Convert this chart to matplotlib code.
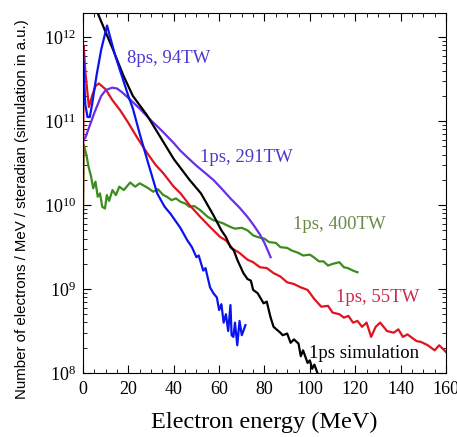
import numpy as np
import matplotlib.pyplot as plt
from matplotlib.ticker import MultipleLocator, LogLocator, NullFormatter

plt.rcParams['font.family'] = 'Liberation Serif'
plt.rcParams['mathtext.fontset'] = 'stix'

# energies (MeV) and log10 of counts
e_blue = [0, 0.5, 1, 2, 3, 4, 6, 8, 10.6, 12, 14, 17, 20, 22, 25, 28.3, 32.7, 36, 38.5,
          42.9, 46, 48, 50, 51, 53, 54, 56, 57.5, 59, 60, 61, 62, 63, 64, 65, 65.5,
          66.3, 67, 68, 69, 70, 71.6]
l_blue = [11.88, 11.5, 11.2, 11.05, 11.05, 11.2, 11.55, 11.85, 12.14, 12.0, 11.8, 11.55,
          11.3, 11.15, 10.85, 10.54, 10.14, 9.98, 9.9, 9.73, 9.58, 9.5, 9.38, 9.4,
          9.22, 9.25, 9.02, 8.95, 8.9, 8.75, 8.82, 8.6, 8.7, 8.5, 8.81, 8.45, 8.43,
          8.6, 8.33, 8.62, 8.45, 8.57]

e_purple = [0, 1, 3, 5, 8, 10, 12.8, 15, 17, 19.5, 25, 30, 35, 40, 42.9, 46, 50, 54,
            57.5, 61, 65, 69, 72.5, 75, 78, 80, 82.7]
l_purple = [10.77, 10.8, 10.95, 11.1, 11.3, 11.37, 11.4, 11.39, 11.35, 11.29, 11.15,
            11.01, 10.88, 10.74, 10.65, 10.57, 10.47, 10.38, 10.3, 10.2, 10.08, 9.97,
            9.86, 9.77, 9.65, 9.55, 9.38]

e_red = [0, 0.3, 1, 2.6, 4, 5.5, 7, 10, 13, 16.4, 20, 24, 28.3, 32, 35.4, 40, 43, 47,
         51.7, 56, 60.5, 63, 66, 69, 72.5, 75, 78, 81, 84, 87, 90, 93, 96, 99, 102,
         105, 108, 110, 113, 115, 117, 119, 121, 123, 125, 127, 129, 131, 134, 137,
         139, 141, 143, 145, 147, 149, 152, 155, 157, 160]
l_red = [9.9, 11.9, 11.6, 11.17, 11.3, 11.42, 11.45, 11.38, 11.25, 11.13, 10.98, 10.8,
         10.62, 10.48, 10.38, 10.22, 10.14, 10.0, 9.86, 9.74, 9.62, 9.58, 9.48, 9.43,
         9.35, 9.32, 9.26, 9.25, 9.19, 9.15, 9.08, 9.06, 9.02, 8.99, 8.88, 8.79, 8.8,
         8.72, 8.7, 8.66, 8.68, 8.6, 8.62, 8.55, 8.6, 8.43, 8.55, 8.6, 8.5, 8.48,
         8.52, 8.43, 8.46, 8.42, 8.38, 8.37, 8.33, 8.27, 8.33, 8.25]

e_green = [0, 0.3, 1.5, 2.5, 3.5, 4.5, 5.5, 6.5, 7.5, 8.5, 9.7, 10.5, 11.5, 13, 14.5,
           16, 18, 20.8, 23, 25, 28.3, 31, 33, 35.4, 37, 39, 41, 43, 45, 47, 49, 51.7,
           55, 57.5, 60, 62, 65, 67, 70, 72.5, 75, 77, 80, 82, 85, 87, 90, 92, 95, 97,
           100, 101.7, 104, 106, 108, 110, 113, 115, 116.7, 119, 121]
l_green = [9.9, 10.72, 10.6, 10.45, 10.35, 10.2, 10.28, 10.1, 10.14, 9.98, 9.96, 10.12,
           10.05, 10.18, 10.12, 10.22, 10.18, 10.27, 10.22, 10.26, 10.21, 10.16, 10.19,
           10.12, 10.1, 10.06, 10.08, 10.04, 10.02, 9.98, 9.99, 9.94, 9.86, 9.82, 9.8,
           9.78, 9.74, 9.72, 9.73, 9.7, 9.64, 9.62, 9.6, 9.56, 9.55, 9.5, 9.49, 9.46,
           9.43, 9.4, 9.41, 9.38, 9.33, 9.33, 9.28, 9.3, 9.32, 9.26, 9.25, 9.22, 9.2]

e_black = [4, 9.7, 13.3, 17.7, 22, 28, 33, 40, 47, 52, 57.5, 61, 63, 65, 66.5, 68,
           70.7, 72.5, 74, 75, 77, 79.6, 81, 82.6, 84, 85.7, 87, 88, 90, 91.5, 93,
           95, 96, 97, 99, 100, 101, 102, 104]
l_black = [12.45, 12.08, 11.85, 11.55, 11.3, 11.08, 10.86, 10.55, 10.3, 10.14, 9.88,
           9.7, 9.62, 9.5, 9.46, 9.35, 9.19, 9.12, 9.1, 8.99, 8.95, 8.83, 8.85, 8.67,
           8.55, 8.51, 8.48, 8.45, 8.47, 8.36, 8.4, 8.35, 8.2, 8.27, 8.12, 8.15, 8.05,
           8.1, 7.95]

fig = plt.figure(figsize=(4.57, 4.37), dpi=100)
ax = fig.add_axes([0.1816, 0.1465, 0.7943, 0.8238])

ax.plot(e_green, 10 ** np.array(l_green), color='#3c8c1e', lw=1.6)
ax.plot(e_red, 10 ** np.array(l_red), color='#e0141e', lw=1.6)
ax.plot(e_purple, 10 ** np.array(l_purple), color='#6a2ee6', lw=1.6)
ax.plot(e_black, 10 ** np.array(l_black), color='black', lw=1.6)
ax.plot(e_blue, 10 ** np.array(l_blue), color='#0a14f0', lw=1.6)

ax.set_yscale('log')
ax.set_xlim(0, 160)
ax.set_ylim(1e8, 1.95e12)

ax.xaxis.set_major_locator(MultipleLocator(20))
ax.xaxis.set_minor_locator(MultipleLocator(5))
ax.yaxis.set_major_locator(LogLocator(base=10))
ax.yaxis.set_minor_locator(LogLocator(base=10, subs=np.arange(2, 10)))
ax.yaxis.set_minor_formatter(NullFormatter())
ax.tick_params(which='both', direction='in', top=True, right=True)
ax.tick_params(which='major', length=6)
ax.tick_params(which='minor', length=3)
ax.tick_params(axis='x', labelsize=13, pad=6)
ax.tick_params(axis='y', labelsize=13, pad=5)

ax.set_xlabel('Electron energy (MeV)', fontsize=17.5, labelpad=10)
ax.set_ylabel('Number of electrons / MeV / steradian (simulation in a.u.)',
              family='Liberation Sans', fontsize=10.8)
ax.yaxis.set_label_coords(-0.15, 0.455)

ax.text(19.4, 5.6e11, '8ps, 94TW', color='#4a3ad0', fontsize=13.5, va='center')
ax.text(51.7, 3.7e10, '1ps, 291TW', color='#4a3acc', fontsize=13.5, va='center')
ax.text(92.4, 5.9e9, '1ps, 400TW', color='#6b8a4a', fontsize=13.5, va='center')
ax.text(111.4, 8e8, '1ps, 55TW', color='#cc2a4a', fontsize=13.5, va='center')
ax.text(99.5, 1.73e8, '1ps simulation', color='black', fontsize=13.5, va='center')

fig.savefig('out.png', dpi=100)
